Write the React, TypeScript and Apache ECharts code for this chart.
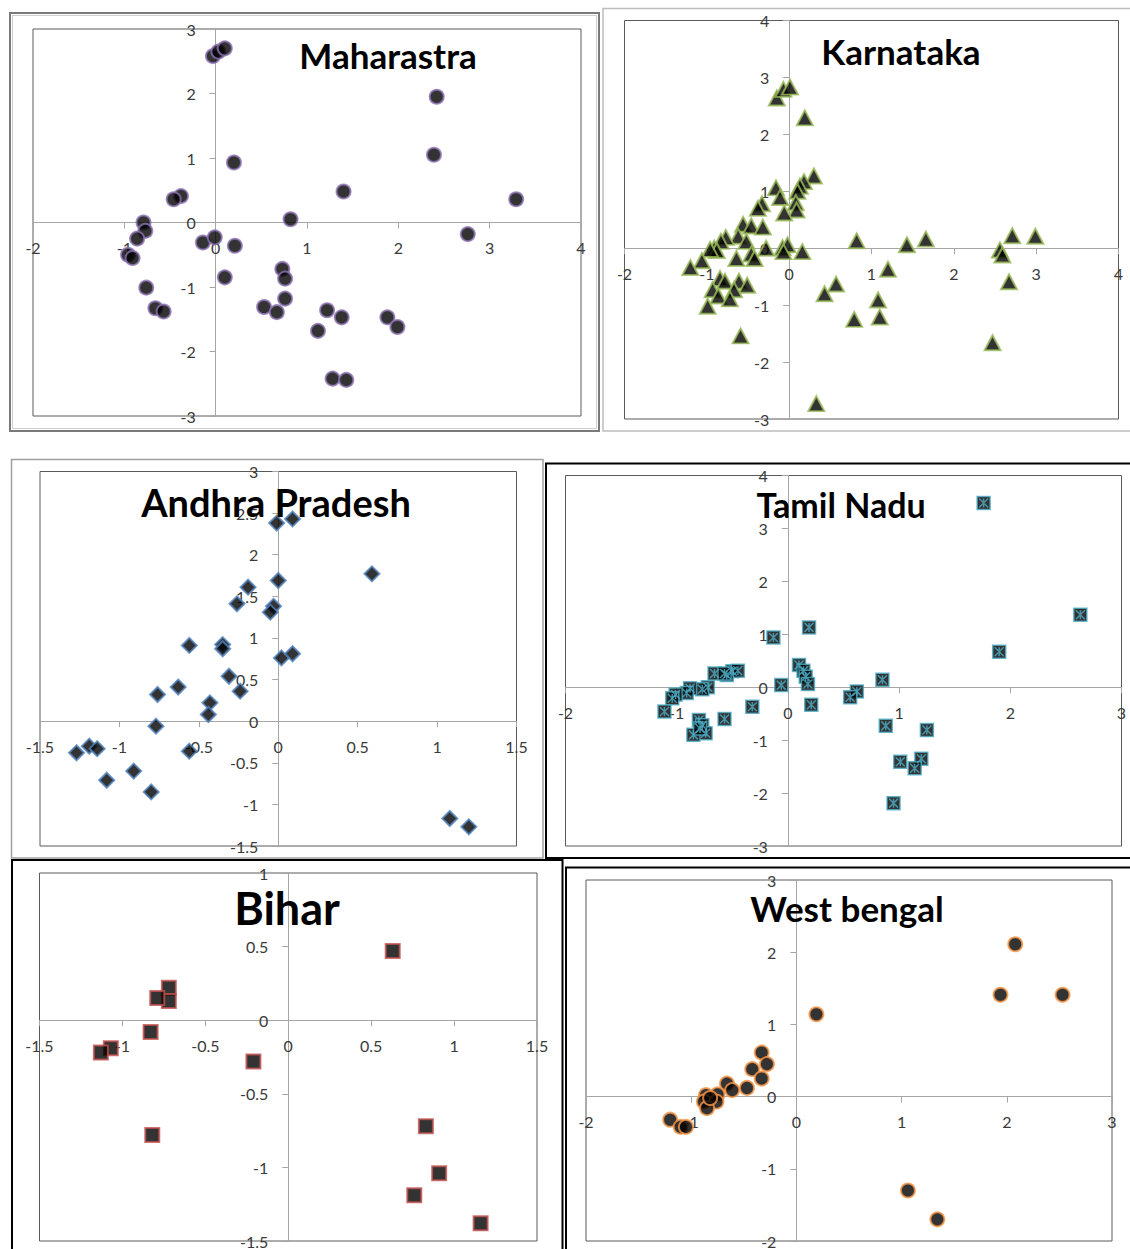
import React, { useEffect, useRef } from "react";
import * as echarts from "echarts";

// ---- data (x, y) ----
const maharastra = [
  [-0.03, 2.58], [0.03, 2.65], [0.1, 2.7], [2.42, 1.95], [2.39, 1.05], [0.2, 0.93],
  [1.4, 0.48], [3.29, 0.36], [-0.38, 0.41], [-0.46, 0.36], [-0.79, 0.0], [-0.77, -0.13],
  [-0.86, -0.25], [-0.96, -0.5], [-0.91, -0.55], [0.82, 0.05], [2.76, -0.18], [-0.14, -0.31],
  [-0.01, -0.23], [0.21, -0.36], [0.1, -0.85], [0.73, -0.72], [0.76, -0.87], [0.76, -1.18],
  [-0.76, -1.01], [-0.66, -1.33], [-0.57, -1.38], [0.53, -1.31], [0.67, -1.39], [1.22, -1.36],
  [1.38, -1.47], [1.12, -1.68], [1.88, -1.47], [1.99, -1.62], [1.28, -2.42], [1.43, -2.44],
];

const karnataka = [
  [-0.15, 2.64], [-0.07, 2.79], [0.01, 2.83], [0.19, 2.29], [0.3, 1.27], [0.18, 1.17],
  [0.13, 1.09], [0.1, 1.0], [-0.16, 1.06], [-0.11, 0.89], [0.08, 0.8], [0.09, 0.67],
  [-0.06, 0.62], [-0.33, 0.78], [-0.38, 0.7], [-0.56, 0.42], [-0.46, 0.39], [-0.32, 0.37],
  [-0.62, 0.21], [-0.52, 0.12], [-0.77, 0.19], [-0.83, 0.12], [-0.91, 0.0], [-0.88, -0.04],
  [-0.96, -0.02], [-0.28, 0.0], [-0.08, 0.01], [-0.02, 0.06], [-0.07, -0.06], [0.16, -0.06],
  [-0.46, -0.1], [-0.42, -0.18], [-0.64, -0.18], [-1.06, -0.22], [-1.2, -0.34], [-0.84, -0.53],
  [-0.78, -0.58], [-0.61, -0.58], [-0.51, -0.65], [-0.67, -0.73], [-0.93, -0.73], [-0.86, -0.84],
  [-0.72, -0.89], [-0.99, -1.02], [-0.59, -1.54], [0.82, 0.13], [1.43, 0.06], [1.66, 0.16],
  [2.56, -0.03], [2.59, -0.12], [2.71, 0.22], [2.99, 0.21], [2.67, -0.59], [1.2, -0.37],
  [0.57, -0.63], [0.43, -0.8], [1.08, -0.91], [1.1, -1.21], [0.79, -1.25], [2.47, -1.66],
  [0.33, -2.73],
];

const andhraPradesh = [
  [-0.01, 2.38], [0.09, 2.43], [0.59, 1.77], [0.0, 1.69], [-0.19, 1.61], [-0.26, 1.41],
  [-0.03, 1.38], [-0.05, 1.31], [-0.56, 0.91], [-0.35, 0.92], [-0.35, 0.87], [0.02, 0.76],
  [0.09, 0.81], [-0.31, 0.54], [-0.24, 0.36], [-0.63, 0.41], [-0.76, 0.32], [-0.43, 0.22],
  [-0.44, 0.08], [-0.77, -0.06], [-0.56, -0.36], [-1.27, -0.38], [-1.19, -0.3], [-1.14, -0.33],
  [-1.08, -0.71], [-0.91, -0.6], [-0.8, -0.85], [1.08, -1.17], [1.2, -1.27],
];

const tamilNadu = [
  [1.76, 3.48], [2.63, 1.37], [1.9, 0.67], [0.19, 1.13], [-0.13, 0.94], [0.1, 0.42],
  [0.14, 0.31], [0.16, 0.2], [0.18, 0.06], [-0.06, 0.04], [0.21, -0.33], [-0.32, -0.37],
  [-0.57, -0.6], [0.85, 0.14], [0.62, -0.08], [0.56, -0.19], [0.88, -0.73], [1.25, -0.81],
  [1.01, -1.41], [1.2, -1.35], [1.14, -1.53], [0.95, -2.19], [-0.5, 0.3], [-0.45, 0.31],
  [-0.55, 0.23], [-0.66, 0.26], [-0.72, 0.0], [-0.77, -0.04], [-0.88, -0.02], [-0.91, -0.11],
  [-1.01, -0.14], [-1.04, -0.21], [-1.11, -0.46], [-0.8, -0.62], [-0.77, -0.72], [-0.74, -0.87],
  [-0.85, -0.9], [-0.79, -0.78], [-0.57, 0.26],
];

const bihar = [
  [0.63, 0.47], [-0.72, 0.22], [-0.72, 0.13], [-0.79, 0.15], [-0.83, -0.08], [-1.07, -0.19],
  [-1.13, -0.22], [-0.21, -0.28], [-0.82, -0.78], [0.83, -0.72], [0.91, -1.04], [0.76, -1.19],
  [1.16, -1.38],
];

const westBengal = [
  [2.08, 2.11], [1.94, 1.41], [2.53, 1.41], [0.19, 1.14], [1.06, -1.3], [1.34, -1.7],
  [-0.33, 0.61], [-0.28, 0.45], [-0.42, 0.38], [-0.33, 0.25], [-0.47, 0.12], [-0.66, 0.18],
  [-0.61, 0.09], [-0.75, 0.03], [-0.86, 0.02], [-0.88, -0.07], [-0.76, -0.07], [-0.85, -0.16],
  [-1.2, -0.32], [-1.1, -0.42], [-1.05, -0.42], [-0.82, -0.02],
];

// axis ranges per panel: [min, max, interval]
const xRanges = [
  [-2, 4, 1], [-2, 4, 1], [-1.5, 1.5, 0.5], [-2, 3, 1], [-1.5, 1.5, 0.5], [-2, 3, 1],
];
const yRanges = [
  [-3, 3, 1], [-3, 4, 1], [-1.5, 3, 0.5], [-3, 4, 1], [-1.5, 1, 0.5], [-2, 3, 1],
];
const titles = ["Maharastra", "Karnataka", "Andhra Pradesh", "Tamil Nadu", "Bihar", "West bengal"];

// layout (pixels)
const grids = [
  { left: 33, top: 29, width: 548, height: 387 },
  { left: 624.5, top: 20.5, width: 494, height: 398.5 },
  { left: 40, top: 471.5, width: 476.5, height: 374.5 },
  { left: 565.5, top: 475.5, width: 556, height: 370.5 },
  { left: 39.5, top: 873, width: 497.5, height: 368 },
  { left: 586, top: 880, width: 526, height: 361 },
];
const titlePos = [
  { x: 388, y: 55, size: 35 },
  { x: 901, y: 51, size: 35 },
  { x: 276, y: 502, size: 38 },
  { x: 841, y: 504, size: 34 },
  { x: 287, y: 908, size: 45 },
  { x: 847, y: 908, size: 35 },
];

const AXIS_COLOR = "#a6a6a6";
const LABEL_COLOR = "#3a3a3a";
const LABEL_SIZE = 16;

export default function App() {
  const ref = useRef<HTMLDivElement>(null);

  useEffect(() => {
    if (!ref.current) return;
    const chart = echarts.init(ref.current, undefined, { renderer: "svg" });

    // axes cross at zero (Excel style): shift each axis from the grid edge to the zero of the other axis
    const xAxis = xRanges.map((r, i) => {
      const yr = yRanges[i];
      const off = -grids[i].height * ((0 - yr[0]) / (yr[1] - yr[0]));
      return {
        type: "value",
        gridIndex: i,
        position: "bottom",
        offset: off,
        min: r[0],
        max: r[1],
        interval: r[2],
        axisLine: { onZero: false, lineStyle: { color: AXIS_COLOR, width: 1 } },
        axisTick: { show: true, length: 6, lineStyle: { color: AXIS_COLOR } },
        axisLabel: { color: LABEL_COLOR, fontSize: LABEL_SIZE, fontFamily: "Lato", margin: 17 },
        splitLine: { show: false },
      };
    });
    const yAxis = yRanges.map((r, i) => {
      const xr = xRanges[i];
      const off = -grids[i].width * ((0 - xr[0]) / (xr[1] - xr[0]));
      return {
        type: "value",
        gridIndex: i,
        position: "left",
        offset: off,
        min: r[0],
        max: r[1],
        interval: r[2],
        axisLine: { onZero: false, lineStyle: { color: AXIS_COLOR, width: 1 } },
        axisTick: { show: true, length: 6, lineStyle: { color: AXIS_COLOR } },
        axisLabel: { color: LABEL_COLOR, fontSize: LABEL_SIZE, fontFamily: "Lato", margin: 20 },
        splitLine: { show: false },
      };
    });

    const base = (i: number, data: number[][]) => ({
      type: "scatter",
      xAxisIndex: i,
      yAxisIndex: i,
      data,
      silent: true,
    });

    const series: any[] = [
      { ...base(0, maharastra), symbol: "circle", symbolSize: 14,
        itemStyle: { color: "#000", borderColor: "#8c72b4", borderWidth: 2 } },
      { ...base(1, karnataka), symbol: "triangle", symbolSize: [16, 15],
        itemStyle: { color: "#000", borderColor: "#9bbb59", borderWidth: 2 } },
      { ...base(2, andhraPradesh), symbol: "diamond", symbolSize: 15,
        itemStyle: { color: "#000", borderColor: "#4f81bd", borderWidth: 2 } },
      { ...base(3, tamilNadu), symbol: "rect", symbolSize: 13,
        itemStyle: { color: "#000", borderColor: "#4bacc6", borderWidth: 1.5 } },
      { ...base(3, tamilNadu), symbol: "path://M0 0L10 10M10 0L0 10M5 0L5 10", symbolSize: 9,
        itemStyle: { color: "rgba(0,0,0,0)", borderColor: "#4bacc6", borderWidth: 1.5 } },
      { ...base(4, bihar), symbol: "rect", symbolSize: 14,
        itemStyle: { color: "#000", borderColor: "#c0504d", borderWidth: 2 } },
      { ...base(5, westBengal), symbol: "circle", symbolSize: 14,
        itemStyle: { color: "#000", borderColor: "#f79646", borderWidth: 2 } },
    ];

    const frames: any[] = [
      { type: "rect", shape: { x: 10, y: 13, width: 589, height: 418 },
        style: { fill: "none", stroke: "#7a7a7a", lineWidth: 2 } },
      { type: "rect", shape: { x: 12.5, y: 15.5, width: 584, height: 413 },
        style: { fill: "none", stroke: "#cfcfcf", lineWidth: 1 } },
      { type: "rect", shape: { x: 603, y: 8.5, width: 540, height: 422.5 },
        style: { fill: "none", stroke: "#bdbdbd", lineWidth: 1.5 } },
      { type: "rect", shape: { x: 11.5, y: 459.5, width: 531.5, height: 398.5 },
        style: { fill: "none", stroke: "#a0a0a0", lineWidth: 1.5 } },
      { type: "rect", shape: { x: 546, y: 463.5, width: 600, height: 394.5 },
        style: { fill: "none", stroke: "#000", lineWidth: 2 } },
      { type: "rect", shape: { x: 12, y: 860, width: 550.5, height: 420 },
        style: { fill: "none", stroke: "#000", lineWidth: 2 } },
      { type: "rect", shape: { x: 566, y: 867.5, width: 600, height: 420 },
        style: { fill: "none", stroke: "#000", lineWidth: 2 } },
    ];

    const titleTexts = titles.map((t, i) => ({
      type: "text",
      x: titlePos[i].x,
      y: titlePos[i].y,
      z: 100,
      style: {
        text: t,
        fill: "#000",
        fontSize: titlePos[i].size,
        fontWeight: "bold",
        fontFamily: "Lato",
        align: "center",
        verticalAlign: "middle",
      },
    }));

    chart.setOption({
      animation: false,
      backgroundColor: "#fff",
      grid: grids.map((g) => ({
        ...g,
        show: true,
        borderColor: "#5a5a5a",
        borderWidth: 1,
        backgroundColor: "transparent",
        containLabel: false,
      })),
      xAxis,
      yAxis,
      series,
      graphic: [...frames, ...titleTexts],
    });

    return () => chart.dispose();
  }, []);

  return (
    <div
      ref={ref}
      style={{ position: "absolute", left: 0, top: 0, width: 1130, height: 1249 }}
    />
  );
}
